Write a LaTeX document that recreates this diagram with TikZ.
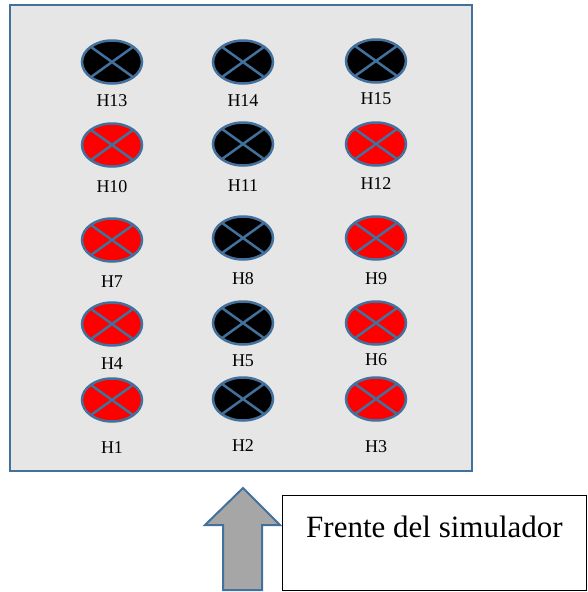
\documentclass[tikz,border=0pt]{standalone}
\usepackage{fontspec}
\setmainfont{Liberation Serif}
\usetikzlibrary{positioning, shapes.geometric}

\definecolor{edgeblue}{RGB}{65,113,156}
\definecolor{panelgray}{RGB}{230,230,230}
\definecolor{arrowgray}{RGB}{166,166,166}

\tikzset{
	hole/.style={ellipse, draw=edgeblue, line width=2.5pt, minimum width=60pt, minimum height=43pt, inner sep=0pt,
		path picture={\draw[edgeblue, line width=2.5pt] (path picture bounding box.north west) -- (path picture bounding box.south east)
			(path picture bounding box.north east) -- (path picture bounding box.south west);}},
	on/.style={hole, fill=black},
	off/.style={hole, fill=red},
	tag/.style={font=\fontsize{18}{18}\selectfont, inner sep=0pt}
}

\begin{document}
\begin{tikzpicture}[x=1pt, y=-1pt]
	\useasboundingbox (0,0) rectangle (587,592);
	\draw[edgeblue, line width=2pt, fill=panelgray] (10,5) rectangle (472,471);
	
	% fila de arriba
	\node[on] (h13) at (112,62) {};
	\node[tag] (t13) at (112,101) {H13};
	\node[on] (h14) at (243,62) {};
	\node[tag] (t14) at (243,101) {H14};
	\node[on] (h15) at (376,61) {};
	\node[tag] (t15) at (376,99) {H15};
	
	\node[off] (h10) at (112,145) {};
	\node[tag] (t10) at (112,187) {H10};
	\node[on] (h11) at (243,144) {};
	\node[tag] (t11) at (243,186) {H11};
	\node[off] (h12) at (376,144) {};
	\node[tag] (t12) at (376,184) {H12};
	
	\node[off] (h7) at (112,240) {};
	\node[tag] (t7) at (112,282) {H7};
	\node[on] (h8) at (243,238) {};
	\node[tag] (t8) at (243,279) {H8};
	\node[off] (h9) at (376,238) {};
	\node[tag] (t9) at (376,279) {H9};
	
	\node[off] (h4) at (112,324) {};
	\node[tag] (t4) at (112,364) {H4};
	\node[on] (h5) at (243,323) {};
	\node[tag] (t5) at (243,361) {H5};
	\node[off] (h6) at (376,323) {};
	\node[tag] (t6) at (376,360) {H6};
	
	% fila de abajo
	\node[off] (h1) at (112,400) {};
	\node[tag] (t1) at (112,448) {H1};
	\node[on] (h2) at (243,399) {};
	\node[tag] (t2) at (243,446) {H2};
	\node[off] (h3) at (376,399) {};
	\node[tag] (t3) at (376,447) {H3};
	
	% flecha y frente
	\draw[edgeblue, line width=2pt, fill=arrowgray] (243,488) -- (280,525) -- (262,525) -- (262,590) -- (223,590) -- (223,525) -- (205,525) --cycle;
	\node[draw, line width=1pt, anchor=north west, minimum width=304pt, inner xsep=0pt, inner ysep=0pt,
		text height=42pt, text depth=53pt, font=\fontsize{31}{31}\selectfont] (frente) at (282,495) {Frente del simulador};
\end{tikzpicture}
\end{document}
